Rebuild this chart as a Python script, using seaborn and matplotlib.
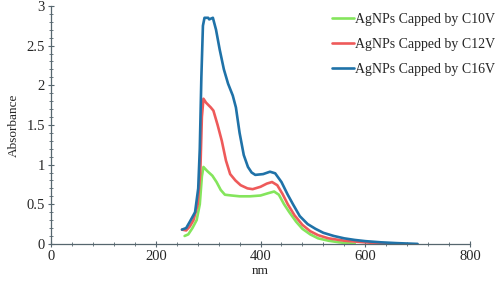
import pandas as pd
import matplotlib
matplotlib.use("Agg")
import matplotlib.pyplot as plt
import seaborn as sns
from matplotlib.ticker import MultipleLocator

# Absorbance spectra
nm_c10 = [255, 262, 270, 278, 284, 288, 291, 298, 308, 316, 324, 332, 345, 360, 380,
          400, 415, 426, 435, 445, 455, 468, 480, 495, 510, 530, 550, 580]
abs_c10 = [0.10, 0.12, 0.20, 0.30, 0.50, 0.85, 0.97, 0.92, 0.86, 0.78, 0.68, 0.62, 0.61, 0.60, 0.60,
           0.61, 0.64, 0.66, 0.62, 0.50, 0.40, 0.28, 0.19, 0.12, 0.07, 0.04, 0.02, 0.0]

nm_c12 = [250, 258, 265, 272, 280, 285, 288, 291, 296, 305, 310, 318, 326, 334, 342, 352,
          362, 375, 385, 400, 412, 422, 432, 442, 452, 465, 480, 495, 510, 530, 560, 600, 640]
abs_c12 = [0.18, 0.17, 0.22, 0.30, 0.50, 0.90, 1.60, 1.83, 1.78, 1.72, 1.68, 1.50, 1.30, 1.05, 0.88, 0.80,
           0.74, 0.70, 0.69, 0.72, 0.76, 0.78, 0.74, 0.63, 0.50, 0.36, 0.24, 0.16, 0.11, 0.07, 0.04, 0.02, 0.0]

nm_c16 = [250, 258, 265, 275, 281, 284, 287, 290, 293, 300, 302, 309, 315, 322, 330, 338, 347,
          353, 360, 368, 376, 383, 390, 405, 418, 428, 440, 452, 462, 475, 490, 505, 520, 540,
          560, 580, 600, 630, 660, 700]
abs_c16 = [0.18, 0.20, 0.28, 0.40, 0.70, 1.20, 2.10, 2.75, 2.85, 2.85, 2.83, 2.85, 2.70, 2.45, 2.20, 2.02, 1.87,
           1.72, 1.40, 1.12, 0.97, 0.90, 0.87, 0.88, 0.91, 0.89, 0.78, 0.62, 0.50, 0.35, 0.25, 0.19, 0.14, 0.10,
           0.07, 0.05, 0.035, 0.02, 0.01, 0.0]

labels = ["AgNPs Capped by C10V", "AgNPs Capped by C12V", "AgNPs Capped by C16V"]
colors = ["#84e55c", "#ee5a5a", "#1f72a8"]

df = pd.concat([
    pd.DataFrame({"nm": nm_c10, "Absorbance": abs_c10, "sample": labels[0]}),
    pd.DataFrame({"nm": nm_c12, "Absorbance": abs_c12, "sample": labels[1]}),
    pd.DataFrame({"nm": nm_c16, "Absorbance": abs_c16, "sample": labels[2]}),
])

sns.set_style("ticks")
plt.rcParams["font.family"] = ["Liberation Serif", "DejaVu Serif"]

fig = plt.figure(figsize=(5.01, 2.81), dpi=100)
ax = fig.add_axes([0.102, 0.132, 0.836, 0.847])

sns.lineplot(data=df, x="nm", y="Absorbance", hue="sample", palette=colors,
             linewidth=1.9, sort=False, ax=ax)

ax.set_xlim(0, 800)
ax.set_ylim(0, 3)
ax.xaxis.set_major_locator(MultipleLocator(200))
ax.xaxis.set_minor_locator(MultipleLocator(40))
ax.yaxis.set_major_locator(MultipleLocator(0.5))
ax.yaxis.set_minor_locator(MultipleLocator(0.1))
ax.set_yticks([0, 0.5, 1, 1.5, 2, 2.5, 3], ["0", "0.5", "1", "1.5", "2", "2.5", "3"])

axis_col = "#56666e"
for s in ["top", "right"]:
    ax.spines[s].set_visible(False)
for s in ["left", "bottom"]:
    ax.spines[s].set_color(axis_col)
    ax.spines[s].set_linewidth(0.9)
ax.tick_params(which="major", direction="inout", length=5, width=0.8, color=axis_col,
               labelsize=10.5, pad=2)
ax.tick_params(which="minor", direction="inout", length=3, width=0.6, color=axis_col)

ax.set_xlabel("nm", fontsize=9.5, labelpad=1)
ax.set_ylabel("Absorbance", fontsize=9.5, labelpad=5)

ax.legend(loc="upper left", bbox_to_anchor=(0.67, 0.97), frameon=False, fontsize=10,
          handlelength=1.6, handletextpad=0.1, labelspacing=0.85, borderpad=0,
          borderaxespad=0, title=None)

fig.savefig("out.png", dpi=100)
